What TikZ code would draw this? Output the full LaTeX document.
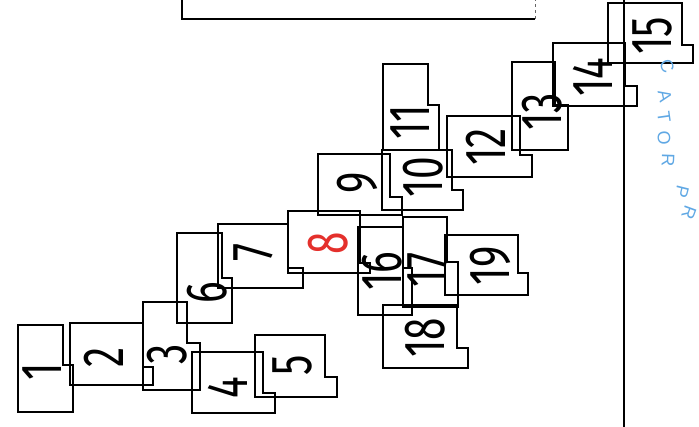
\documentclass[tikz,border=0pt]{standalone}
\usepackage{fontspec}
\setmainfont{Liberation Sans}
\IfFontExistsTF{Fira Sans Book}{\newfontfamily\sheetfont{Fira Sans Book}}{%
  \newfontfamily\sheetfont{Fira Sans}}
\usetikzlibrary{positioning}
\definecolor{sheetred}{RGB}{228,48,44}
\definecolor{stampblue}{RGB}{96,168,228}
\tikzset{
  mapsheet/.style={
    draw=black,
    line width=1.7pt,
    line join=miter
  },
  sheetlabel/.style={
    inner sep=0pt,
    rotate=90,
    xscale=0.7,
    font=\sheetfont\fontsize{58}{58}\selectfont
  },
  frameline/.style={
    draw=black,
    line width=1.6pt
  },
  stampletter/.style={
    inner sep=0pt,
    text=stampblue,
    font=\fontsize{18}{18}\selectfont
  }
}

\begin{document}
\begin{tikzpicture}[x=1pt,y=-1pt]
  \useasboundingbox (0,0) rectangle (699,427);

  % title box at the top and the neat line on the right
  \coordinate (boxtl) at (182,-4);
  \coordinate (boxbr) at (535,19);
  \draw[frameline] (boxtl) |- (boxbr);
  \draw[line width=0.8pt,draw=black!60,dashed] (boxbr) -- (535,-4);
  \coordinate (neattop) at (624,0);
  \coordinate (neatbot) at (624,427);
  \draw[frameline] (neattop) -- (neatbot);

  \foreach \n/\l/\t/\r/\m/\d/\b/\tx/\ty/\c in {
      1/18/325/63/365/73/412/42/372/black,
      2/70/323/143/367/153/385/104/357/black,
      3/143/302/187/343/200/390/167/354/black,
      4/192/352/263/393/275/413/228/388/black,
      5/255/335/325/377/337/397/292/365/black,
      6/177/233/222/278/232/323/207/293/black,
      7/218/224/288/268/303/288/253/252/black,
      8/288/211/360/263/370/273/328/243/sheetred,
      9/318/154/390/197/402/215/357/183/black,
      10/382/150/452/190/463/210/423/177/black,
      11/383/64/428/105/439/150/410/122/black,
      12/447/116/520/155/532/177/486/147/black,
      13/512/62/555/105/568/150/542/112/black,
      14/553/43/625/86/637/106/593/77/black,
      15/608/3/682/45/693/63/652/36/black,
      16/358/227/403/268/412/315/382/271/black,
      17/403/217/447/262/458/307/427/270/black,
      18/383/305/457/348/468/368/425/338/black,
      19/445/235/518/273/528/295/490/266/black}{
    \draw[mapsheet] (\l,\t) -- (\r,\t) -- (\r,\m) -- (\d,\m) -- (\d,\b) -- (\l,\b) -- cycle;
    \node[sheetlabel,text=\c] (sheet\n) at (\tx,\ty) {\n};
  }

  \foreach \ch/\x/\y/\a [count=\i] in {
      C/667/66/-68, A/665/96/-78, T/664/117/-82, O/664/138/-86,
      R/668/160/-92, P/682/192/-104, R/689/213/-110}{
    \node[stampletter,rotate=\a] (stamp\i) at (\x,\y) {\ch};
  }
\end{tikzpicture}
\end{document}
